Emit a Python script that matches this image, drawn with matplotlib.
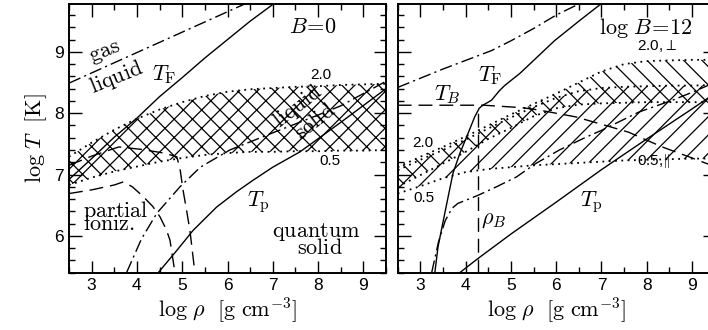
import numpy as np
import matplotlib
matplotlib.use('Agg')
import matplotlib.pyplot as plt
from matplotlib.ticker import MultipleLocator

DPI = 110
S = 100.0 / DPI   # keeps sizes tuned for 100 dpi, hatch spacing follows dpi

plt.rcParams['mathtext.fontset'] = 'cm'
plt.rcParams['font.family'] = ['Liberation Sans', 'DejaVu Sans']
plt.rcParams['hatch.linewidth'] = 0.9 * S

# ---- data (log rho, log T) ----
band_x = [2.5, 3.0, 3.5, 4.0, 4.5, 5.0, 5.5, 6.0, 6.5, 7.0, 7.5, 8.0, 8.5, 9.0, 9.5]

# left panel, B = 0
b0_hi = [7.29, 7.52, 7.73, 7.91, 8.06, 8.18, 8.28, 8.35, 8.39, 8.41, 8.43, 8.44, 8.46, 8.47, 8.48]  # 2.0
b0_lo = [6.83, 6.95, 7.05, 7.13, 7.21, 7.27, 7.32, 7.35, 7.37, 7.37, 7.38, 7.38, 7.39, 7.39, 7.40]  # 0.5

gas_x = [2.5, 6.5]
gas_y = [8.49, 9.82]

tf0_x = [2.5, 3.0, 3.5, 4.0, 4.5, 5.0, 5.5, 6.0, 6.5, 7.05]
tf0_y = [6.92, 7.26, 7.61, 7.92, 8.27, 8.58, 8.90, 9.20, 9.50, 9.80]

tp0_x = [4.47, 4.9, 5.24, 5.76, 6.2, 6.57, 7.0, 7.6, 8.5, 9.5]
tp0_y = [5.40, 5.78, 6.09, 6.47, 6.72, 6.91, 7.12, 7.37, 7.85, 8.40]

melt0_x = [3.77, 4.1, 4.44, 4.95, 5.4, 6.05, 7.0, 8.0, 8.5, 9.5]
melt0_y = [5.40, 5.95, 6.37, 6.80, 7.12, 7.40, 7.68, 7.97, 8.12, 8.52]

ion1_x = [2.5, 3.0, 3.5, 3.7, 3.9, 4.14, 4.35, 4.51, 4.65, 4.73, 4.84]
ion1_y = [6.69, 6.75, 6.83, 6.88, 6.80, 6.64, 6.48, 6.31, 6.10, 5.93, 5.40]

ion2_x = [2.5, 3.0, 3.6, 4.1, 4.6, 4.88, 4.95, 5.02, 5.10, 5.17, 5.28]
ion2_y = [7.15, 7.30, 7.45, 7.41, 7.35, 7.29, 7.10, 6.74, 6.40, 6.09, 5.40]

# right panel, log B = 12
perp_hi = [7.12, 7.29, 7.45, 7.62, 7.80, 7.98, 8.15, 8.32, 8.50, 8.68, 8.80, 8.85, 8.86, 8.87, 8.87]  # 2.0, perp
perp_lo = [6.80, 6.99, 7.18, 7.37, 7.58, 7.76, 7.95, 8.08, 8.14, 8.16, 8.17, 8.18, 8.18, 8.18, 8.18]  # 0.5, perp
par_hi = [7.07, 7.24, 7.40, 7.57, 7.75, 7.93, 8.10, 8.25, 8.36, 8.41, 8.43, 8.44, 8.45, 8.45, 8.46]   # 2.0, par
par_lo = [6.69, 6.81, 6.94, 7.04, 7.09, 7.12, 7.15, 7.17, 7.19, 7.21, 7.23, 7.24, 7.25, 7.26, 7.26]   # 0.5, par

gas12_x = [2.5, 3.5, 4.57, 5.0, 5.5, 6.0, 6.5]
gas12_y = [8.42, 8.72, 9.02, 9.18, 9.38, 9.60, 9.78]

tf12_x = [3.32, 3.39, 3.54, 3.72, 3.87, 4.02, 4.2, 4.3, 4.38, 4.57, 4.75, 4.86, 5.2, 5.96, 6.5, 7.02]
tf12_y = [5.40, 5.82, 6.37, 7.02, 7.34, 7.61, 7.94, 8.08, 8.13, 8.21, 8.37, 8.45, 8.65, 9.18, 9.50, 9.80]

tb_x = [2.5, 4.4, 5.25, 5.63, 6.43, 7.0, 7.6, 8.34, 9.0, 9.5]
tb_y = [8.13, 8.13, 8.09, 8.05, 7.94, 7.82, 7.69, 7.45, 7.27, 7.13]

melt12_x = [3.25, 3.4, 3.55, 3.7, 3.83, 4.27, 4.68, 5.12, 5.55, 6.07, 6.66, 7.0, 7.83, 8.56, 9.0, 9.5]
melt12_y = [5.40, 5.90, 6.25, 6.45, 6.53, 6.66, 6.80, 6.96, 7.18, 7.40, 7.61, 7.72, 8.02, 8.21, 8.34, 8.50]

tp12_x = [3.87, 4.27, 5.0, 6.0, 7.0, 8.0, 9.0, 9.5]
tp12_y = [5.40, 5.63, 6.03, 6.55, 7.08, 7.58, 8.07, 8.32]

rhoB = 4.27
rhoB_y = [5.4, 8.0]

xticks = [3, 4, 5, 6, 7, 8, 9]
yticks = [6, 7, 8, 9]

dot = (0, (1, 2.5))
dashdot = (0, (9, 3, 1.5, 3))
longdash = (0, (10, 5))

big = 16 * S
small = 11 * S
lw = 1.0 * S
lwd = 1.3 * S

fig = plt.figure(figsize=(708 / DPI, 330 / DPI), dpi=DPI)
axL = fig.add_axes([69/708, 57.3/330, 317/708, 268.7/330])
axR = fig.add_axes([397.7/708, 57.3/330, 317/708, 268.7/330])

for ax in (axL, axR):
    ax.set_xlim(2.5, 9.5)
    ax.set_ylim(5.4, 9.78)
    ax.set_xticks(xticks)
    ax.set_yticks(yticks)
    ax.xaxis.set_minor_locator(MultipleLocator(0.5))
    ax.yaxis.set_minor_locator(MultipleLocator(0.2))
    ax.tick_params(which='both', direction='in', top=True, right=True,
                   labelsize=12.5 * S, width=1 * S, pad=3.5 * S)
    ax.tick_params(which='major', length=9 * S)
    ax.tick_params(which='minor', length=4.5 * S)
    for s in ax.spines.values():
        s.set_linewidth(1.4 * S)
    ax.set_xlabel(r'$\log\,\rho\ \ [\mathrm{g\ cm^{-3}}]$', fontsize=big, labelpad=2 * S)
axR.set_yticklabels([])
axL.set_ylabel(r'$\log\,T\ \ [\mathrm{K}]$', fontsize=big, labelpad=4 * S)

# ---- left panel ----
ax = axL
ax.fill_between(band_x, b0_lo, b0_hi, facecolor='none', edgecolor='k', linewidth=0, hatch='xx')
ax.plot(band_x, b0_hi, color='k', lw=lwd, ls=dot)
ax.plot(band_x, b0_lo, color='k', lw=lwd, ls=dot)
ax.plot(gas_x, gas_y, color='k', lw=lw, ls=dashdot)
ax.plot(tf0_x, tf0_y, color='k', lw=lw)
ax.plot(tp0_x, tp0_y, color='k', lw=lw)
ax.plot(melt0_x, melt0_y, color='k', lw=lw, ls=dashdot)
ax.plot(ion1_x, ion1_y, color='k', lw=lw, ls=longdash)
ax.plot(ion2_x, ion2_y, color='k', lw=lw, ls=longdash)

ax.text(7.89, 9.39, r'$B\!=\!0$', fontsize=big, ha='center', va='center')
ax.text(3.29, 8.99, r'$\mathrm{gas}$', fontsize=big, ha='center', va='center', rotation=22)
ax.text(3.54, 8.58, r'$\mathrm{liquid}$', fontsize=big, ha='center', va='center', rotation=22)
ax.text(4.6, 8.63, r'$T_{\rm F}$', fontsize=big, ha='center', va='center')
ax.text(8.06, 8.62, '2.0', fontsize=small, ha='center', va='center')
ax.text(8.26, 7.22, '0.5', fontsize=small, ha='center', va='center')
ax.text(7.56, 8.12, r'$\mathrm{liquid}$', fontsize=big, ha='center', va='center', rotation=38)
ax.text(7.95, 7.86, r'$\mathrm{solid}$', fontsize=big, ha='center', va='center', rotation=38)
ax.text(6.69, 6.55, r'$T_{\rm p}$', fontsize=big, ha='center', va='center')
ax.text(2.82, 6.41, r'$\mathrm{partial}$', fontsize=big, ha='left', va='center')
ax.text(2.82, 6.19, r'$\mathrm{ioniz.}$', fontsize=big, ha='left', va='center')
ax.text(7.97, 6.07, r'$\mathrm{quantum}$', fontsize=big, ha='center', va='center')
ax.text(8.04, 5.80, r'$\mathrm{solid}$', fontsize=big, ha='center', va='center')

# ---- right panel ----
ax = axR
ax.fill_between(band_x, perp_lo, perp_hi, facecolor='none', edgecolor='k', linewidth=0, hatch='\\\\')
ax.fill_between(band_x, par_lo, par_hi, facecolor='none', edgecolor='k', linewidth=0, hatch='//')
for yy in (perp_hi, perp_lo, par_hi, par_lo):
    ax.plot(band_x, yy, color='k', lw=lwd, ls=dot)
ax.plot(gas12_x, gas12_y, color='k', lw=lw, ls=dashdot)
ax.plot(tf12_x, tf12_y, color='k', lw=lw)
ax.plot(tb_x, tb_y, color='k', lw=lw, ls=longdash)
ax.plot(melt12_x, melt12_y, color='k', lw=lw, ls=dashdot)
ax.plot(tp12_x, tp12_y, color='k', lw=lw)
ax.plot([rhoB, rhoB], rhoB_y, color='k', lw=lw, ls=longdash)

ax.text(7.98, 9.39, r'$\log\,B\!=\!12$', fontsize=big, ha='center', va='center')
ax.text(8.22, 9.09, r'2.0,$\perp$', fontsize=small, ha='center', va='center')
ax.text(8.16, 7.22, r'0.5,$\Vert$', fontsize=small, ha='center', va='center')
ax.text(3.05, 7.52, '2.0', fontsize=small, ha='center', va='center')
ax.text(3.08, 6.62, '0.5', fontsize=small, ha='center', va='center')
ax.text(3.6, 8.31, r'$T_B$', fontsize=big, ha='center', va='center')
ax.text(4.55, 8.62, r'$T_{\rm F}$', fontsize=big, ha='center', va='center')
ax.text(4.62, 6.27, r'$\rho_B$', fontsize=big, ha='center', va='center')
ax.text(6.77, 6.55, r'$T_{\rm p}$', fontsize=big, ha='center', va='center')

fig.savefig('out.png', dpi=DPI)
